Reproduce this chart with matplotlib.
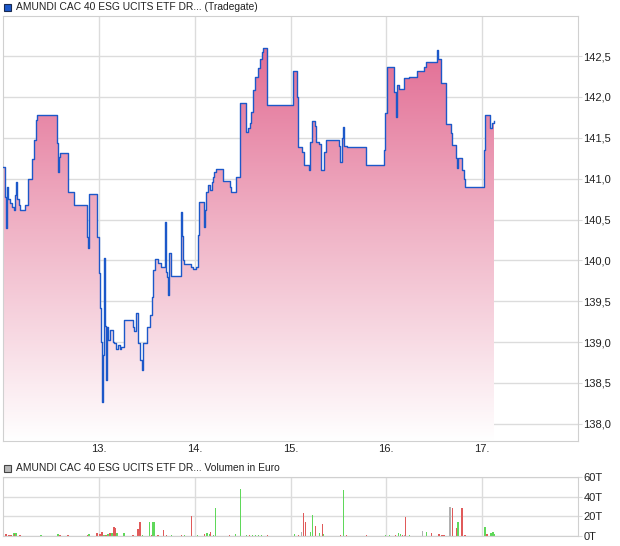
import matplotlib.pyplot as plt
import numpy as np
from matplotlib.colors import LinearSegmentedColormap
from matplotlib.patches import Rectangle

plt.rcParams['font.family'] = ['Liberation Sans', 'DejaVu Sans']

# price (Tradegate), time in trading days (x axis: 12. .. 18.)
t = [12.000, 12.021, 12.031, 12.042, 12.052, 12.073, 12.094, 12.115, 12.125, 12.135,
     12.146, 12.167, 12.177, 12.229, 12.260, 12.302, 12.323, 12.344, 12.354, 12.563,
     12.573, 12.583, 12.594, 12.677, 12.740, 12.875, 12.885, 12.896, 12.979, 13.000,
     13.010, 13.021, 13.031, 13.042, 13.052, 13.063, 13.073, 13.083, 13.094, 13.115,
     13.146, 13.156, 13.177, 13.198, 13.219, 13.229, 13.260, 13.354, 13.365, 13.385,
     13.406, 13.427, 13.448, 13.458, 13.500, 13.531, 13.552, 13.563, 13.583, 13.615,
     13.646, 13.688, 13.698, 13.708, 13.719, 13.729, 13.750, 13.854, 13.865, 13.875,
     13.885, 13.958, 13.979, 14.010, 14.031, 14.042, 14.094, 14.104, 14.115, 14.135,
     14.156, 14.177, 14.188, 14.198, 14.219, 14.292, 14.365, 14.375, 14.427, 14.469,
     14.531, 14.552, 14.573, 14.583, 14.604, 14.625, 14.656, 14.677, 14.698, 14.708,
     14.750, 15.021, 15.073, 15.083, 15.125, 15.146, 15.198, 15.208, 15.229, 15.260,
     15.271, 15.302, 15.323, 15.354, 15.375, 15.510, 15.521, 15.542, 15.552, 15.563,
     15.594, 15.760, 15.792, 15.979, 15.990, 16.010, 16.083, 16.104, 16.115, 16.135,
     16.188, 16.240, 16.323, 16.396, 16.417, 16.531, 16.542, 16.573, 16.625, 16.677,
     16.688, 16.729, 16.740, 16.750, 16.792, 16.813, 16.823, 17.021, 17.031, 17.083,
     17.104, 17.125]
price = [141.14, 140.78, 140.40, 140.90, 140.75, 140.70, 140.65, 140.62, 140.80, 140.96,
         140.75, 140.68, 140.62, 140.68, 141.00, 141.24, 141.47, 141.72, 141.78, 141.44,
         141.08, 141.26, 141.31, 140.84, 140.68, 140.29, 140.15, 140.81, 140.29, 139.85,
         139.42, 139.00, 138.27, 138.84, 140.03, 139.20, 138.54, 139.19, 139.03, 139.15,
         139.00, 138.99, 138.91, 138.96, 138.91, 138.94, 139.27, 139.19, 139.13, 139.36,
         138.99, 138.78, 138.66, 138.99, 139.19, 139.33, 139.55, 139.88, 140.02, 139.97,
         139.92, 140.47, 139.86, 139.80, 139.58, 140.09, 139.81, 140.59, 140.30, 140.00,
         139.96, 139.92, 139.90, 139.92, 140.31, 140.72, 140.41, 140.62, 140.84, 140.92,
         140.86, 140.96, 141.02, 141.08, 141.12, 140.97, 140.90, 140.84, 141.02, 141.93,
         141.57, 141.62, 141.68, 141.82, 142.08, 142.24, 142.35, 142.47, 142.55, 142.60,
         141.90, 142.32, 142.00, 141.39, 141.33, 141.17, 141.11, 141.45, 141.70, 141.65,
         141.45, 141.42, 141.10, 141.33, 141.47, 141.40, 141.20, 141.50, 141.63, 141.40,
         141.39, 141.39, 141.17, 141.35, 141.80, 142.37, 142.06, 141.75, 142.15, 142.10,
         142.23, 142.24, 142.32, 142.37, 142.43, 142.57, 142.47, 142.17, 141.67, 141.56,
         141.41, 141.25, 141.13, 141.25, 141.10, 141.00, 140.90, 141.35, 141.78, 141.62,
         141.68, 141.70]

# volume in thousand euro, g = up, r = down, n = unchanged
vol_t = [12.031, 12.063, 12.083, 12.115, 12.125, 12.135, 12.177, 12.240, 12.281, 12.333,
         12.375, 12.396, 12.573, 12.594, 12.677, 12.740, 12.885, 12.896, 12.979, 13.010,
         13.031, 13.052, 13.073, 13.094, 13.115, 13.135, 13.156, 13.167, 13.188, 13.260,
         13.354, 13.406, 13.427, 13.458, 13.531, 13.552, 13.563, 13.573, 13.615, 13.677,
         13.708, 13.760, 13.865, 13.896, 13.969, 14.031, 14.104, 14.125, 14.135, 14.156,
         14.167, 14.198, 14.219, 14.302, 14.365, 14.427, 14.479, 14.542, 14.573, 14.604,
         14.635, 14.667, 14.698, 14.760, 15.042, 15.083, 15.115, 15.135, 15.156, 15.208,
         15.229, 15.260, 15.302, 15.333, 15.344, 15.417, 15.521, 15.552, 15.583, 15.677,
         15.792, 15.990, 16.031, 16.094, 16.125, 16.146, 16.167, 16.188, 16.198, 16.240,
         16.281, 16.333, 16.375, 16.417, 16.469, 16.552, 16.583, 16.604, 16.667, 16.688,
         16.740, 16.750, 16.792, 16.823, 17.031, 17.052, 17.094, 17.115, 17.125]
vol = [2, 1.5, 1.5, 3, 2.5, 3, 1, 0.5, 0.5, 0.5,
       0.5, 0.7, 2, 1, 1, 0.5, 1, 2, 3, 2,
       4, 1, 1.5, 2, 3, 3, 9, 8, 3, 3,
       1, 7, 14, 1, 14, 1, 14, 14, 1, 6,
       1, 1, 1, 1, 20, 1, 2, 3, 3.5, 2.5,
       4, 1, 28, 0.5, 1, 2, 48, 1, 1, 1,
       1, 1, 1, 1, 2, 1, 4, 23, 14, 4,
       21, 10, 3, 12, 2, 0.5, 1, 47, 1, 0.5,
       1, 1, 1, 1, 3, 2, 1, 1, 19, 1,
       0.5, 0.5, 5, 4, 3, 2, 1, 1, 29, 28,
       8, 14, 28, 1, 9, 2, 3, 4, 2]
vol_dir = ['r', 'r', 'r', 'g', 'r', 'g', 'r', 'g', 'g', 'g',
           'g', 'g', 'g', 'r', 'r', 'r', 'r', 'g', 'r', 'r',
           'r', 'g', 'r', 'g', 'r', 'g', 'r', 'r', 'g', 'g',
           'r', 'r', 'r', 'g', 'g', 'r', 'g', 'g', 'r', 'r',
           'r', 'g', 'r', 'g', 'r', 'g', 'r', 'g', 'g', 'g',
           'r', 'g', 'g', 'r', 'r', 'g', 'g', 'g', 'r', 'g',
           'g', 'g', 'g', 'r', 'g', 'r', 'n', 'r', 'r', 'g',
           'g', 'r', 'g', 'r', 'g', 'g', 'r', 'g', 'r', 'n',
           'r', 'g', 'g', 'r', 'g', 'g', 'r', 'n', 'r', 'g',
           'g', 'n', 'n', 'g', 'r', 'r', 'r', 'r', 'n', 'r',
           'r', 'g', 'r', 'r', 'g', 'r', 'g', 'g', 'g']

days = [13, 14, 15, 16, 17]
price_ticks = [138.0, 138.5, 139.0, 139.5, 140.0, 140.5, 141.0, 141.5, 142.0, 142.5]
vol_ticks = [0, 20, 40, 60]

GRID = '#dcdcdc'
LINE = '#1c58c9'
col_map = {'g': '#5fd85a', 'r': '#e05a5a', 'n': '#b0b0b0'}

fig = plt.figure(figsize=(6.2, 5.46), dpi=100)

# main price panel
ax = fig.add_axes([3/620, 105/546, 575/620, 425/546])
ymin, ymax = 137.79, 142.99
ax.set_xlim(12, 18)
ax.set_ylim(ymin, ymax)

fill = ax.fill_between(t, price, ymin, step='post', color='none', lw=0)
grad = np.linspace(0, 1, 256).reshape(-1, 1)
cmap = LinearSegmentedColormap.from_list('pink', ['#ffffff', '#f0b3c6', '#e0628c'])
im = ax.imshow(grad, cmap=cmap, extent=[12, 18, ymin, ymax], origin='lower',
               aspect='auto', zorder=1, interpolation='bilinear')
im.set_clip_path(fill.get_paths()[0], transform=ax.transData)
ax.step(t, price, where='post', color=LINE, lw=1.0, zorder=3)

ax.set_xticks(days)
ax.set_xticklabels([f'{d}.' for d in days])
ax.set_yticks(price_ticks)
ax.set_yticklabels([f'{v:.1f}'.replace('.', ',') for v in price_ticks])
ax.yaxis.tick_right()
ax.grid(True, color=GRID, lw=1.0, zorder=0)
ax.set_axisbelow(True)
ax.tick_params(axis='x', length=0, pad=2, labelsize=8, colors='#222222')
ax.tick_params(axis='y', length=3, color=GRID, pad=1, labelsize=8, labelcolor='#222222')
for s in ax.spines.values():
    s.set_color('#d0d0d0')

# volume panel
vax = fig.add_axes([3/620, 10/546, 575/620, 59/546])
vax.bar(vol_t, vol, width=0.016, color=[col_map[c] for c in vol_dir], lw=0,
        antialiased=False, zorder=2)
vax.set_xlim(12, 18)
vax.set_ylim(0, 60)
vax.set_xticks(days)
vax.set_xticklabels([])
vax.set_yticks(vol_ticks)
vax.set_yticklabels([f'{v}T' for v in vol_ticks])
vax.yaxis.tick_right()
vax.grid(True, color=GRID, lw=1.0, zorder=0)
vax.set_axisbelow(True)
vax.tick_params(axis='x', length=0)
vax.tick_params(axis='y', length=3, color=GRID, pad=1, labelsize=8, labelcolor='#222222')
for s in vax.spines.values():
    s.set_color('#d0d0d0')

# legend-like headers
fig.add_artist(Rectangle((4/620, 535/546), 7/620, 7/546, transform=fig.transFigure,
                         fc=LINE, ec='#1a2a50', lw=0.8))
fig.text(16/620, 539/546, 'AMUNDI CAC 40 ESG UCITS ETF DR... (Tradegate)',
         fontsize=7.4, va='center', ha='left', color='#222222')
fig.add_artist(Rectangle((4/620, 74/546), 7/620, 7/546, transform=fig.transFigure,
                         fc='#b8b8b8', ec='#444444', lw=0.8))
fig.text(16/620, 78/546, 'AMUNDI CAC 40 ESG UCITS ETF DR... Volumen in Euro',
         fontsize=7.4, va='center', ha='left', color='#222222')

fig.savefig('out.png', dpi=100)
